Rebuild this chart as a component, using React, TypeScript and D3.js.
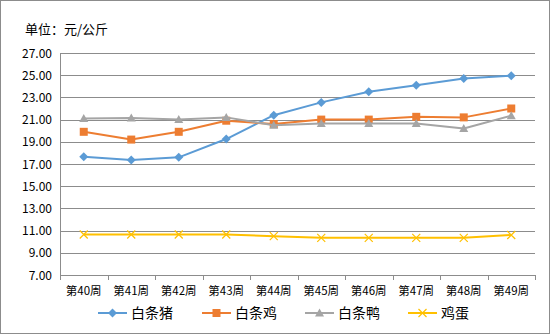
import React from "react";
import * as d3 from "d3";

const weeks = ["第40周", "第41周", "第42周", "第43周", "第44周", "第45周", "第46周", "第47周", "第48周", "第49周"];
const pork = [17.65, 17.35, 17.6, 19.25, 21.4, 22.55, 23.5, 24.1, 24.7, 24.95];
const chicken = [19.9, 19.2, 19.9, 20.9, 20.6, 21.0, 21.0, 21.25, 21.2, 22.0];
const duck = [21.1, 21.15, 21.0, 21.2, 20.5, 20.65, 20.65, 20.65, 20.2, 21.35];
const egg = [10.65, 10.65, 10.65, 10.65, 10.5, 10.35, 10.35, 10.35, 10.35, 10.6];
const yTicks = [7, 9, 11, 13, 15, 17, 19, 21, 23, 25, 27];

const series = [
  { name: "白条猪", values: pork, color: "#5B9BD5", marker: "diamond" },
  { name: "白条鸡", values: chicken, color: "#ED7D31", marker: "square" },
  { name: "白条鸭", values: duck, color: "#A5A5A5", marker: "triangle" },
  { name: "鸡蛋", values: egg, color: "#FFC000", marker: "x" },
];

const W = 550;
const H = 334;
const margin = { top: 53, right: 15, bottom: 59, left: 60 };
const font = "'Noto Sans CJK SC', sans-serif";

function Marker({ type, x, y, color }: { type: string; x: number; y: number; color: string }) {
  if (type === "diamond") {
    return <path d={`M${x},${y - 4.5}L${x + 4.5},${y}L${x},${y + 4.5}L${x - 4.5},${y}Z`} fill={color} />;
  }
  if (type === "square") {
    return <rect x={x - 4} y={y - 4} width={8} height={8} fill={color} />;
  }
  if (type === "triangle") {
    return <path d={`M${x},${y - 4.5}L${x + 4.5},${y + 3.5}L${x - 4.5},${y + 3.5}Z`} fill={color} />;
  }
  return (
    <path d={`M${x - 4},${y - 4}L${x + 4},${y + 4}M${x + 4},${y - 4}L${x - 4},${y + 4}`} stroke={color} strokeWidth={1.2} />
  );
}

export default function App() {
  const x = d3.scaleBand().domain(weeks).range([margin.left, W - margin.right]);
  const y = d3.scaleLinear().domain([7, 27]).range([H - margin.bottom, margin.top]);
  const cx = (w: string) => (x(w) ?? 0) + x.bandwidth() / 2;
  const line = d3
    .line<number>()
    .x((_, i) => cx(weeks[i]))
    .y((d) => y(d));

  const legendX = [98, 202, 305, 408];

  return (
    <svg width={W} height={H} style={{ position: "absolute", left: 0, top: 0 }} fontFamily={font}>
      <rect x={0.5} y={0.5} width={W - 1} height={H - 1} fill="#fff" stroke="#8c8c8c" />
      <text x={25} y={34} fontSize={13} fill="#000">单位：元/公斤</text>

      {yTicks.map((t) => (
        <g key={t}>
          <line x1={margin.left} x2={W - margin.right} y1={Math.round(y(t)) + 0.5} y2={Math.round(y(t)) + 0.5} stroke="#8c8c8c" />
          <text x={52} y={y(t) + 4.5} textAnchor="end" fontSize={12} fill="#000">
            {t.toFixed(2)}
          </text>
        </g>
      ))}
      <line x1={margin.left + 0.5} x2={margin.left + 0.5} y1={margin.top} y2={H - margin.bottom} stroke="#8c8c8c" />
      {weeks.map((w) => (
        <line
          key={w}
          x1={Math.round(x(w) ?? 0) + 0.5}
          x2={Math.round(x(w) ?? 0) + 0.5}
          y1={H - margin.bottom}
          y2={H - margin.bottom + 5}
          stroke="#8c8c8c"
        />
      ))}
      <line x1={W - margin.right + 0.5} x2={W - margin.right + 0.5} y1={H - margin.bottom} y2={H - margin.bottom + 5} stroke="#8c8c8c" />
      {weeks.map((w) => (
        <text key={w} x={cx(w)} y={295} textAnchor="middle" fontSize={11.5} fill="#000">
          {w}
        </text>
      ))}

      {series.map((s) => (
        <g key={s.name}>
          <path d={line(s.values) ?? ""} fill="none" stroke={s.color} strokeWidth={2} strokeLinejoin="round" />
          {s.values.map((v, i) => (
            <Marker key={i} type={s.marker} x={cx(weeks[i])} y={y(v)} color={s.color} />
          ))}
        </g>
      ))}

      {series.map((s, i) => (
        <g key={s.name}>
          <line x1={legendX[i]} x2={legendX[i] + 29} y1={313} y2={313} stroke={s.color} strokeWidth={2} />
          <Marker type={s.marker} x={legendX[i] + 14.5} y={313} color={s.color} />
          <text x={legendX[i] + 33} y={318} fontSize={14} fill="#000">
            {s.name}
          </text>
        </g>
      ))}
    </svg>
  );
}
